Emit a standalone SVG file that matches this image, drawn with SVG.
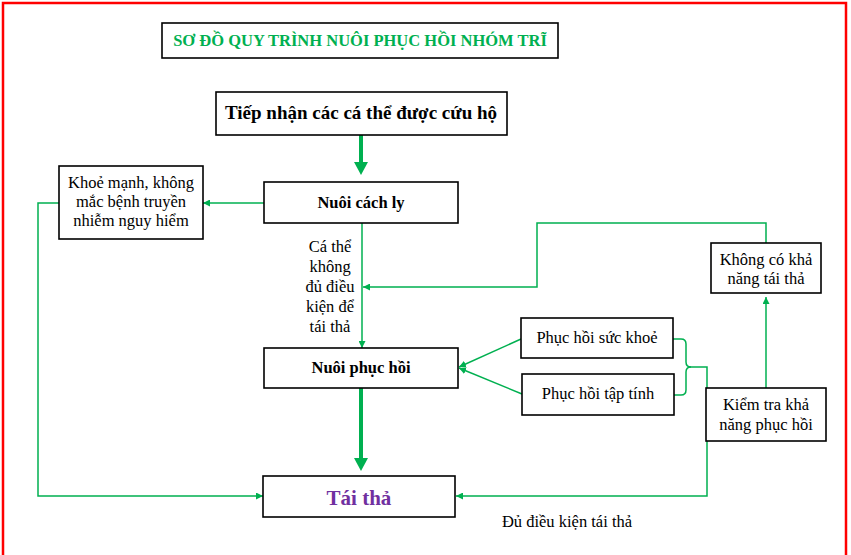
<svg xmlns="http://www.w3.org/2000/svg" width="851" height="555" viewBox="0 0 851 555">
<style>
.box{fill:#fff;stroke:#000;stroke-width:1.6}
.t{font-family:"Liberation Serif","Times New Roman",serif;font-size:16.5px;fill:#000;text-anchor:middle}
.b{font-weight:bold}
.ln{fill:none;stroke:#00B050;stroke-width:1.5}
.thick{fill:none;stroke:#00B050;stroke-width:4}
</style>
<defs>
<marker id="ah" viewBox="0 0 10 10" refX="10" refY="5" markerWidth="7" markerHeight="7" markerUnits="userSpaceOnUse" orient="auto"><path d="M0,0L10,5L0,10z" fill="#00B050"/></marker>
</defs>
<rect x="0" y="0" width="851" height="555" fill="#fff"/>
<rect x="3" y="3" width="843" height="580" fill="none" stroke="#FF0000" stroke-width="2.5"/>

<g id="connectors">
<path class="thick" d="M361,135V163"/><path d="M354,162L368,162L361,175z" fill="#00B050"/>
<path class="ln" d="M264,203H203" marker-end="url(#ah)"/>
<path class="ln" d="M59,203H38V496H263" marker-end="url(#ah)"/>
<path class="ln" d="M362,223V348" marker-end="url(#ah)"/>
<path class="ln" d="M766,243V223H537V287H363" marker-end="url(#ah)"/>
<path class="ln" d="M766,388V297" marker-end="url(#ah)"/>
<path class="ln" d="M521,339L459,367" marker-end="url(#ah)"/>
<path class="ln" d="M522,394L459,368" marker-end="url(#ah)"/>
<path class="ln" d="M673,339H681Q686,339 686,344V362Q686,367 691,367H707V496H456" marker-end="url(#ah)"/>
<path class="ln" d="M674,395H681Q686,395 686,390V372Q686,367 691,367"/>
<path class="thick" d="M361,388V459"/><path d="M354,458L368,458L361,471z" fill="#00B050"/>
</g>

<g id="title">
<rect class="box" x="162" y="23" width="396" height="35"/>
<text class="t b" x="360" y="46" style="fill:#00B050">SƠ ĐỒ QUY TRÌNH NUÔI PHỤC HỒI NHÓM TRĨ</text>
</g>
<g id="tiep-nhan">
<rect class="box" x="216" y="92" width="291" height="43"/>
<text class="t b" x="361" y="119" style="font-size:19px">Tiếp nhận các cá thể được cứu hộ</text>
</g>
<g id="nuoi-cach-ly">
<rect class="box" x="264" y="182" width="194" height="41"/>
<text class="t b" x="361" y="208">Nuôi cách ly</text>
</g>
<g id="khoe-manh">
<rect class="box" x="59" y="166" width="144" height="73"/>
<text class="t" x="131" y="188">Khoẻ mạnh, không</text>
<text class="t" x="131" y="207">mắc bệnh truyền</text>
<text class="t" x="131" y="226">nhiễm nguy hiểm</text>
</g>
<g id="label-khong-du">
<text class="t" x="330" y="252">Cá thể</text>
<text class="t" x="330" y="272">không</text>
<text class="t" x="330" y="292">đủ điều</text>
<text class="t" x="330" y="312">kiện để</text>
<text class="t" x="330" y="332">tái thả</text>
</g>
<g id="nuoi-phuc-hoi">
<rect class="box" x="264" y="348" width="194" height="40"/>
<text class="t b" x="361" y="373">Nuôi phục hồi</text>
</g>
<g id="phuc-hoi-suc-khoe">
<rect class="box" x="521" y="318" width="152" height="40"/>
<text class="t" x="597" y="343">Phục hồi sức khoẻ</text>
</g>
<g id="phuc-hoi-tap-tinh">
<rect class="box" x="522" y="374" width="152" height="41"/>
<text class="t" x="598" y="399">Phục hồi tập tính</text>
</g>
<g id="khong-co-kha-nang">
<rect class="box" x="711" y="243" width="110" height="50"/>
<text class="t" x="766" y="265">Không có khả</text>
<text class="t" x="766" y="284">năng tái thả</text>
</g>
<g id="kiem-tra">
<rect class="box" x="706" y="388" width="120" height="53"/>
<text class="t" x="766" y="410">Kiểm tra khả</text>
<text class="t" x="766" y="430">năng phục hồi</text>
</g>
<g id="tai-tha">
<rect class="box" x="263" y="476" width="192" height="41"/>
<text class="t b" x="359" y="505" style="fill:#7030A0;font-size:21px">Tái thả</text>
</g>
<g id="label-du-dieu-kien">
<text class="t" x="567" y="527">Đủ điều kiện tái thả</text>
</g>
</svg>
